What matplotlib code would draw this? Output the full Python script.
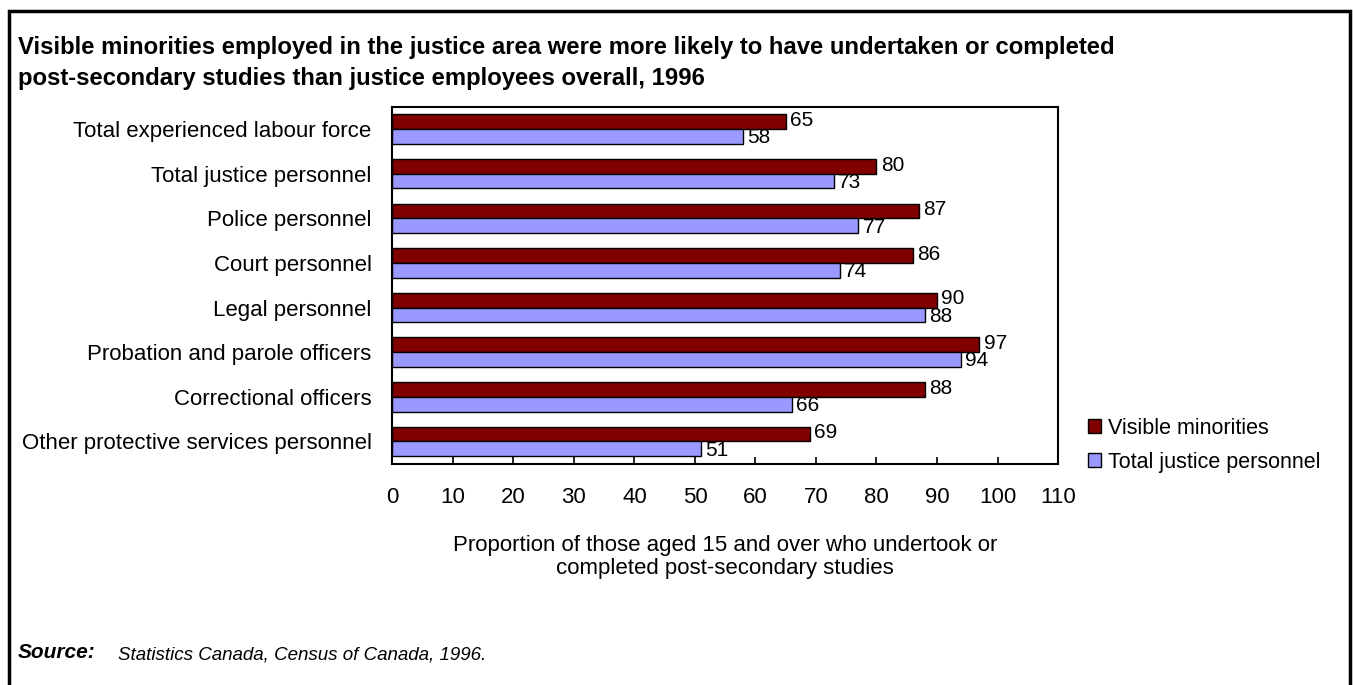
import numpy as np
import matplotlib
matplotlib.use('Agg')
import matplotlib.pyplot as plt
from matplotlib.patches import Rectangle, Patch

plt.rcParams['font.family'] = ['Liberation Sans', 'DejaVu Sans']

# data
categories = ['Total experienced labour force', 'Total justice personnel', 'Police personnel',
              'Court personnel', 'Legal personnel', 'Probation and parole officers',
              'Correctional officers', 'Other protective services personnel']
visible_minorities = [65, 80, 87, 86, 90, 97, 88, 69]
total_justice = [58, 73, 77, 74, 88, 94, 66, 51]
series_names = ['Visible minorities', 'Total justice personnel']
xticks = list(range(0, 111, 10))

red = '#800000'
blue = '#9999FF'

fig = plt.figure(figsize=(13.53, 6.85), dpi=100)
ax = fig.add_axes([0.290, 0.323, 0.492, 0.521])

y = np.arange(len(categories))
h = 0.33
b1 = ax.barh(y - h / 2, visible_minorities, height=h, color=red, edgecolor='black', linewidth=1.0)
b2 = ax.barh(y + h / 2, total_justice, height=h, color=blue, edgecolor='black', linewidth=1.0)

for bars, vals, dy in [(b1, visible_minorities, 1), (b2, total_justice, -1)]:
    for bar, v in zip(bars, vals):
        ax.annotate(str(v), (v, bar.get_y() + bar.get_height() / 2), xytext=(3, dy),
                    textcoords='offset points', va='center', ha='left', fontsize=15)

ax.set_ylim(len(categories) - 0.5, -0.5)
ax.set_xlim(0, 110)
ax.set_xticks(xticks)
ax.set_yticks(y)
ax.set_yticklabels(categories, fontsize=16)
ax.tick_params(axis='y', length=0, pad=15)
ax.tick_params(axis='x', direction='in', length=5, width=1.2, labelsize=16, pad=17)
for s in ax.spines.values():
    s.set_linewidth(1.5)

ax.set_xlabel('Proportion of those aged 15 and over who undertook or\ncompleted post-secondary studies',
              fontsize=16, labelpad=19, linespacing=1.15)

handles = [Patch(facecolor=red, edgecolor='black', label=series_names[0]),
           Patch(facecolor=blue, edgecolor='black', label=series_names[1])]
fig.legend(handles=handles, loc='center left', bbox_to_anchor=(0.79, 0.35), frameon=False,
           fontsize=15.5, handlelength=0.6, handleheight=0.6, handletextpad=0.3, labelspacing=0.6)

fig.text(0.013, 0.947, 'Visible minorities employed in the justice area were more likely to have undertaken or completed\n'
         'post-secondary studies than justice employees overall, 1996',
         fontsize=17.2, fontweight='bold', va='top', ha='left', linespacing=1.4)

fig.text(0.013, 0.047, 'Source:', fontsize=15, fontweight='bold', style='italic', va='center')
fig.text(0.087, 0.044, 'Statistics Canada, Census of Canada, 1996.', fontsize=13.5, style='italic', va='center')

fig.add_artist(Rectangle((0.0065, -0.02), 0.9915, 1.0035, transform=fig.transFigure,
                         fill=False, edgecolor='black', linewidth=2.5, clip_on=False))

fig.savefig('out.png', dpi=100)
